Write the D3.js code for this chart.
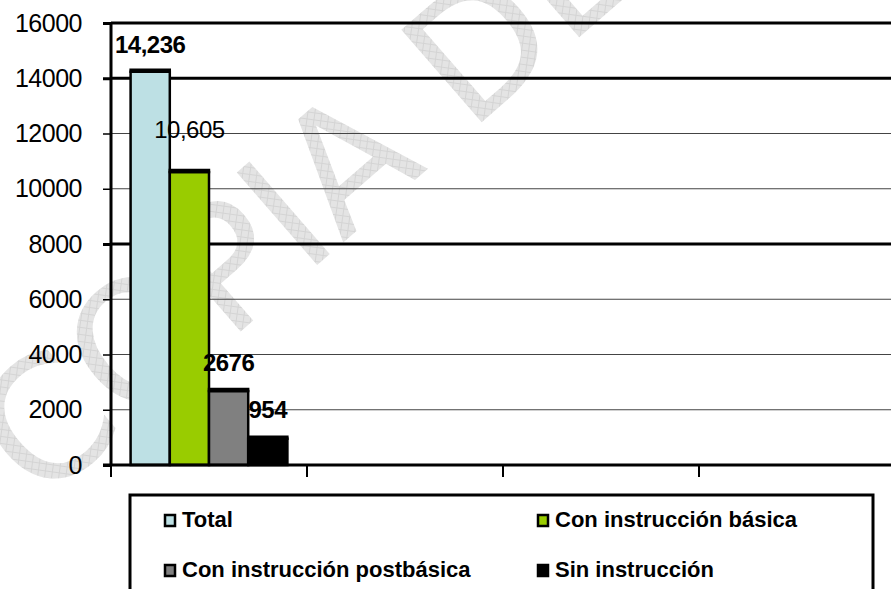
<!DOCTYPE html>
<html>
<head>
<meta charset="utf-8">
<script src="https://cdn.jsdelivr.net/npm/d3@7"></script>
<style>
  html, body { margin: 0; padding: 0; background: #fff; }
  svg { display: block; font-family: "Liberation Sans", Arial, sans-serif; }
</style>
</head>
<body>
<svg id="chart" width="891" height="589"></svg>
<script>
// --- data ---
const categorySlots = [0, 1, 2, 3];          // four category slots, only the first has data
const categoryLabels = ["", "", "", ""];
const series = ["Total", "Con instrucción básica", "Con instrucción postbásica", "Sin instrucción"];
const values = [14236, 10605, 2676, 954];
const valueLabels = ["14,236", "10,605", "2676", "954"];
const yTicks = [0, 2000, 4000, 6000, 8000, 10000, 12000, 14000, 16000];

// --- styles ---
const colors = ["#BDE0E4", "#99CC00", "#808080", "#000000"];
const labelBold = [true, false, true, true];
const labelLift = [19, 34, 20, 21];
const thickGrid = new Set([16000, 14000, 8000]);

const width = 891, height = 589;
const margin = { left: 111, top: 23, right: -4, bottom: 124 };
const svg = d3.select("#chart");

// watermark pattern
const defs = svg.append("defs");
const pat = defs.append("pattern")
  .attr("id", "hatch")
  .attr("width", 7).attr("height", 7)
  .attr("patternUnits", "userSpaceOnUse")
  .attr("patternTransform", "rotate(-41)");
pat.append("rect").attr("width", 7).attr("height", 7).attr("fill", "#e4e4e4");
pat.append("path").attr("d", "M0,0.5H7M0.5,0V7").attr("stroke", "#d4d4d4").attr("stroke-width", 1);

svg.append("text")
  .attr("transform", "translate(40,506) rotate(-41)")
  .attr("font-family", "DejaVu Sans, sans-serif")
  .attr("font-size", 168)
  .attr("fill", "url(#hatch)")
  .text("COPIA DE");

const x = d3.scaleBand()
  .domain(categorySlots)
  .range([margin.left, width - margin.right]);

const x1 = d3.scaleBand()
  .domain(series)
  .range([0, x.bandwidth()])
  .paddingOuter(0.5);

const y = d3.scaleLinear()
  .domain([0, 16000])
  .range([height - margin.bottom, margin.top]);

// gridlines
svg.append("g")
  .selectAll("line")
  .data(yTicks.filter(d => d > 0))
  .join("line")
  .attr("x1", margin.left)
  .attr("x2", width)
  .attr("y1", d => y(d))
  .attr("y2", d => y(d))
  .attr("stroke", d => thickGrid.has(d) ? "#000" : "#444")
  .attr("stroke-width", d => thickGrid.has(d) ? 3 : 1.2);

// y axis
const yAxis = svg.append("g")
  .attr("transform", `translate(${margin.left},0)`)
  .call(d3.axisLeft(y).tickValues(yTicks).tickFormat(d3.format("d")).tickSize(8).tickPadding(21));
yAxis.select(".domain").remove();
yAxis.selectAll(".tick line").attr("stroke", "#000").attr("stroke-width", d => thickGrid.has(d) || d === 0 ? 3 : 1.5);
yAxis.selectAll(".tick text")
  .attr("font-size", 25)
  .attr("font-family", "Liberation Sans, Arial, sans-serif")
  .attr("fill", "#000")
  .attr("letter-spacing", -0.5);

// bars
const group = svg.append("g").attr("transform", `translate(${x(categorySlots[0])},0)`);
const bars = group.selectAll("g.bar")
  .data(values.map((v, i) => ({ v, i, s: series[i] })))
  .join("g")
  .attr("class", "bar");

bars.append("rect")
  .attr("x", d => x1(d.s))
  .attr("y", d => y(d.v))
  .attr("width", x1.bandwidth())
  .attr("height", d => y(0) - y(d.v))
  .attr("fill", d => colors[d.i])
  .attr("stroke", "#000")
  .attr("stroke-width", 2.5);

bars.append("line")
  .attr("x1", d => x1(d.s) - 1.2)
  .attr("x2", d => x1(d.s) + x1.bandwidth() + 1.2)
  .attr("y1", d => y(d.v) - 1)
  .attr("y2", d => y(d.v) - 1)
  .attr("stroke", "#000")
  .attr("stroke-width", 4.5);

// x axis
svg.append("line")
  .attr("x1", margin.left - 8).attr("x2", width)
  .attr("y1", y(0)).attr("y2", y(0))
  .attr("stroke", "#000").attr("stroke-width", 3);
svg.append("line")
  .attr("x1", margin.left).attr("x2", margin.left)
  .attr("y1", y(16000)).attr("y2", y(0))
  .attr("stroke", "#000").attr("stroke-width", 3);

const xAxis = svg.append("g")
  .attr("transform", `translate(0,${y(0)})`);
xAxis.selectAll("line")
  .data(categorySlots.concat([categorySlots.length]))
  .join("line")
  .attr("x1", d => d < categorySlots.length ? x(d) : x(d - 1) + x.bandwidth())
  .attr("x2", d => d < categorySlots.length ? x(d) : x(d - 1) + x.bandwidth())
  .attr("y1", 0).attr("y2", 12)
  .attr("stroke", "#000").attr("stroke-width", 2);
xAxis.selectAll("text")
  .data(categorySlots)
  .join("text")
  .attr("x", d => x(d) + x.bandwidth() / 2)
  .attr("y", 30)
  .attr("text-anchor", "middle")
  .text(d => categoryLabels[d]);

// value labels
group.selectAll("text.val")
  .data(values.map((v, i) => ({ v, i, s: series[i] })))
  .join("text")
  .attr("class", "val")
  .attr("x", d => x1(d.s) + x1.bandwidth() / 2)
  .attr("y", d => y(d.v) - labelLift[d.i])
  .attr("text-anchor", "middle")
  .attr("font-size", 24)
  .attr("font-weight", d => labelBold[d.i] ? "bold" : "normal")
  .attr("letter-spacing", -0.5)
  .attr("fill", "#000")
  .text(d => valueLabels[d.i]);

// legend
const legend = svg.append("g");
legend.append("rect")
  .attr("x", 130).attr("y", 495)
  .attr("width", 743).attr("height", 200)
  .attr("fill", "#fff")
  .attr("stroke", "#000").attr("stroke-width", 3);

const legendCols = [164, 537];
const legendRows = [527, 577];
const items = legend.selectAll("g.item")
  .data(series)
  .join("g")
  .attr("class", "item")
  .attr("transform", (d, i) => `translate(${legendCols[i % 2]},${legendRows[Math.floor(i / 2)]})`);

items.append("rect")
  .attr("x", 1).attr("y", -12)
  .attr("width", 10).attr("height", 11)
  .attr("fill", (d, i) => colors[i])
  .attr("stroke", "#000").attr("stroke-width", 2.5);

items.append("text")
  .attr("x", 18)
  .attr("y", 0)
  .attr("font-size", 22)
  .attr("font-weight", "bold")
  .attr("fill", "#000")
  .text(d => d);
</script>
</body>
</html>
